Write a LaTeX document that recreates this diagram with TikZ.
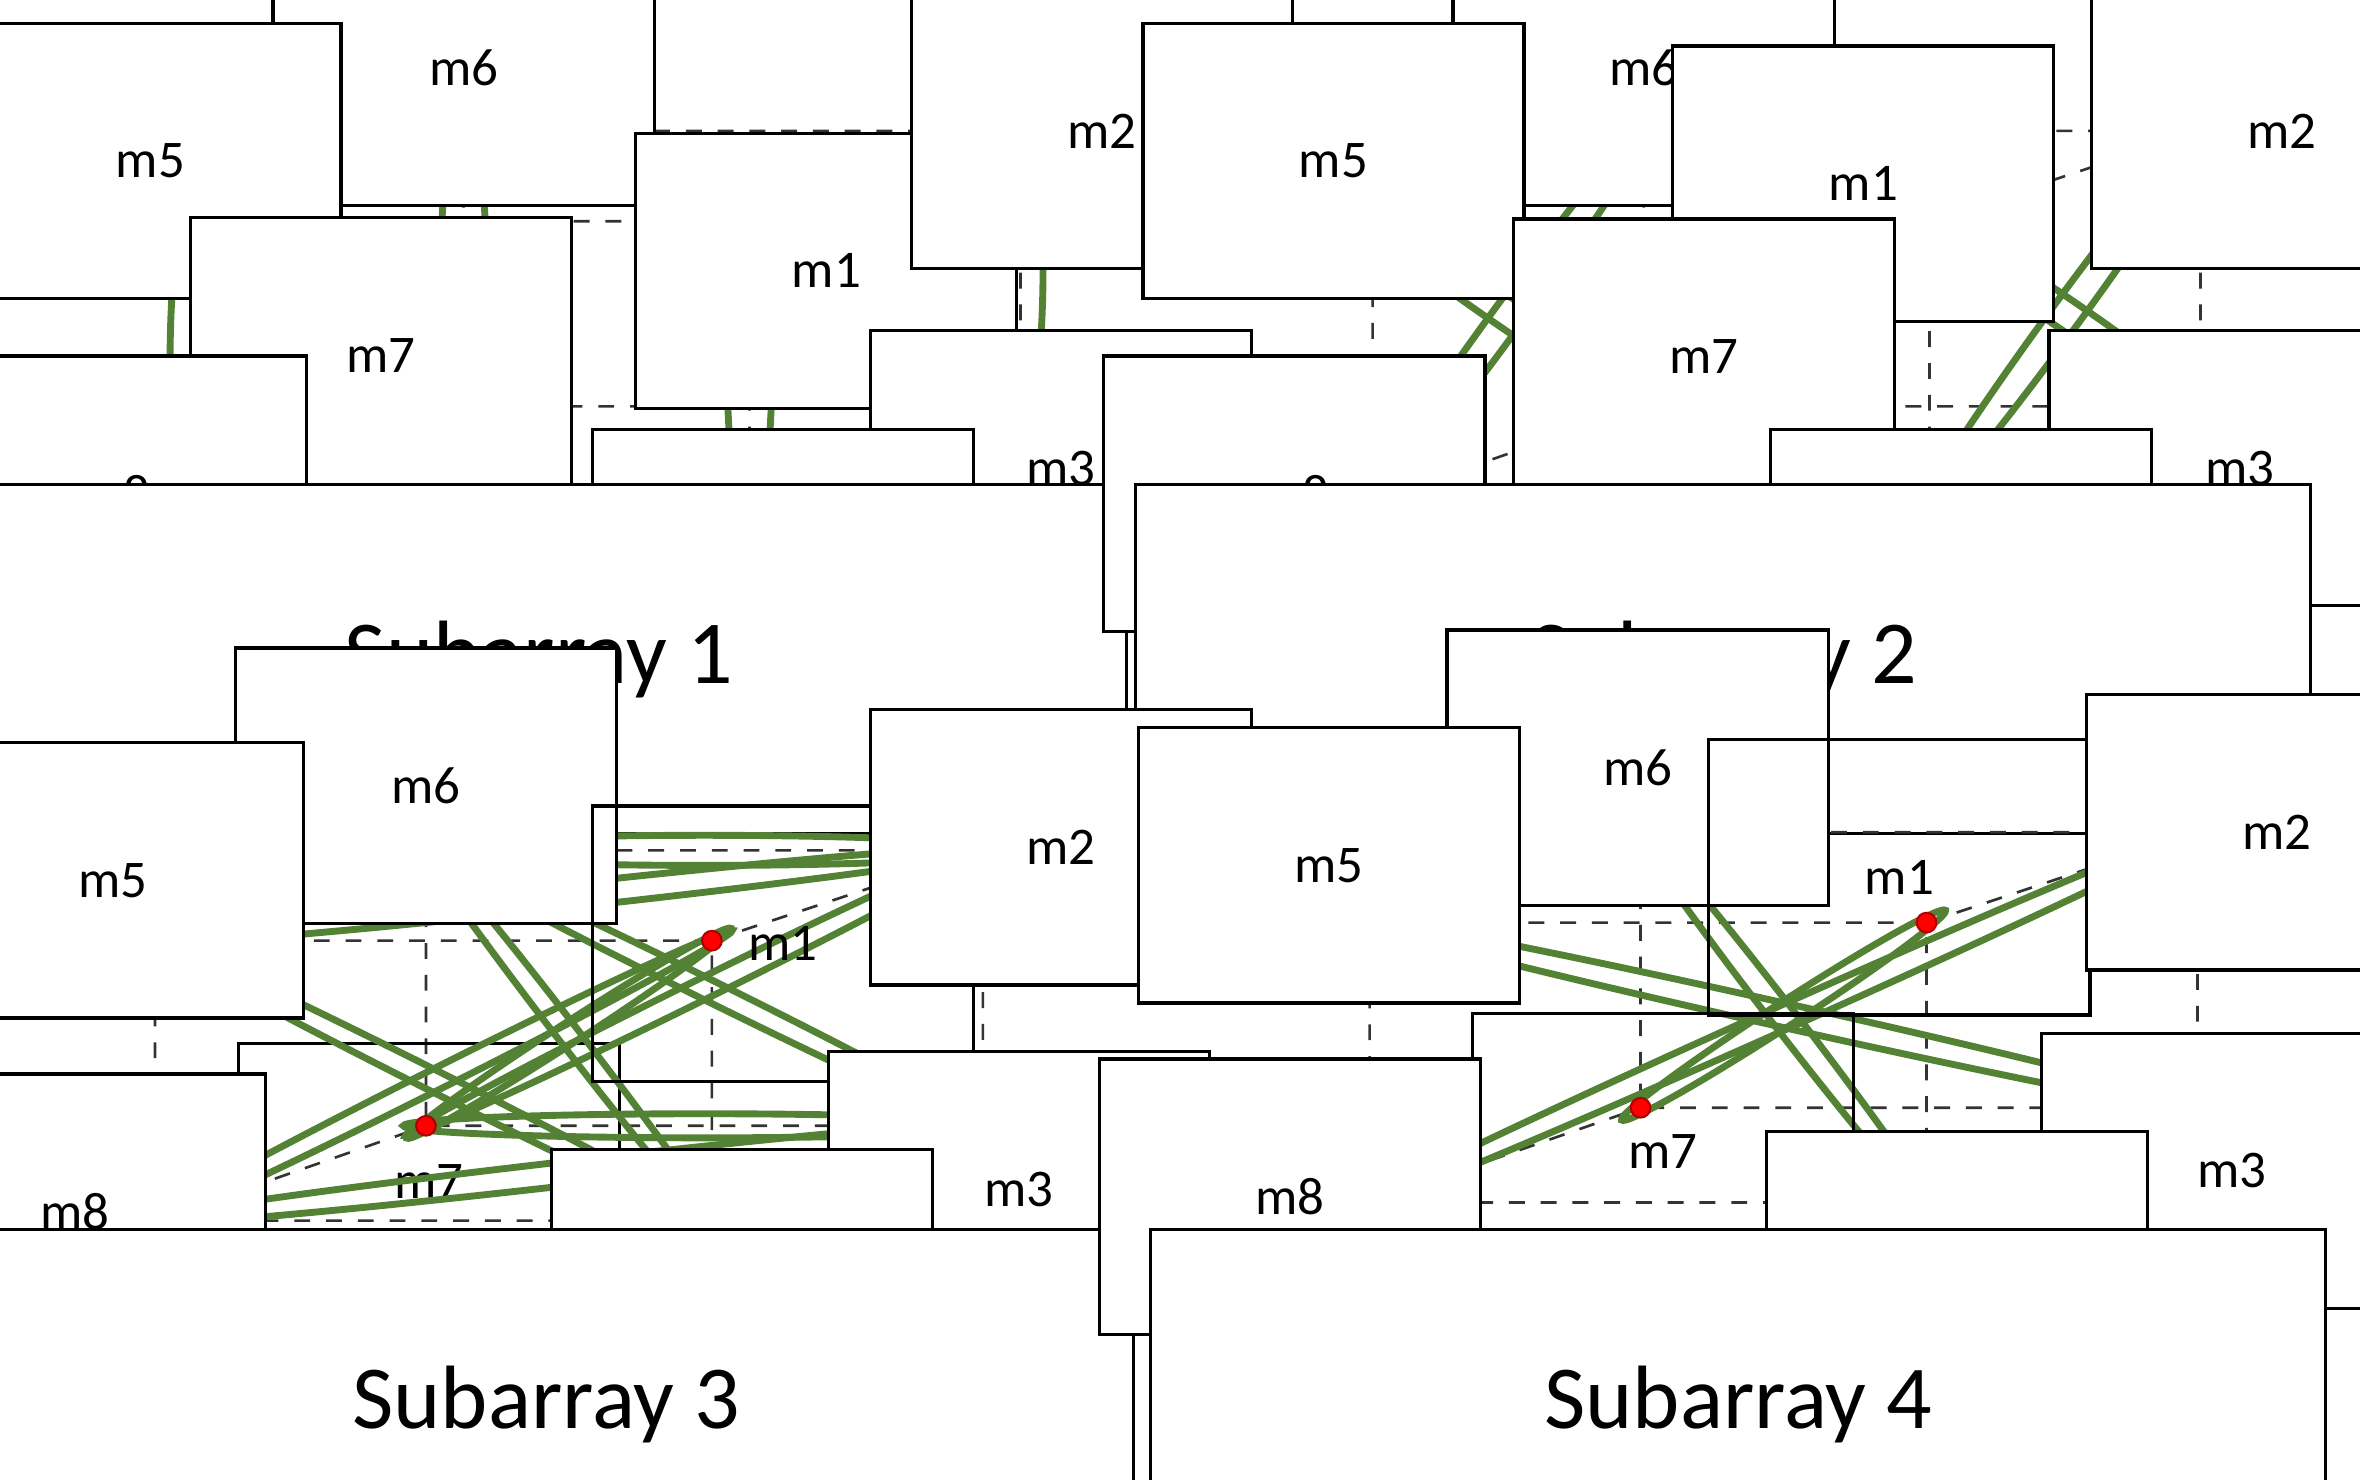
\documentclass[tikz,border=0pt]{standalone}
\usepackage{fontspec}
\setmainfont{Carlito}
\usetikzlibrary{shapes.geometric,calc}
\definecolor{eg}{RGB}{84,130,53}
\begin{document}
\begin{tikzpicture}[x=0.01cm,y=-0.01cm,
  cubeedge/.style={dashed,line width=0.5pt,gray!40!black},
  mlab/.style={draw,line width=0.6pt,fill=white,minimum width=72,minimum height=52,inner sep=0,font=\fontsize{10}{12}\selectfont},
  subtitle/.style={draw,line width=0.6pt,fill=white,minimum width=222,minimum height=66,inner sep=0,font=\fontsize{17}{20}\selectfont},
  mdot/.style={circle,fill=red,draw=red!70!black,inner sep=0,minimum size=0.13cm}]
\useasboundingbox (0,0) rectangle (1568,983);
\newcommand{\mycube}[3]{%
 \coordinate (#1m5) at (#2,#3);
 \coordinate (#1m6) at ($(#2,#3)+(180,-60)$);
 \coordinate (#1m1) at ($(#2,#3)+(370,0)$);
 \coordinate (#1m2) at ($(#2,#3)+(550,-60)$);
 \coordinate (#1m8) at ($(#2,#3)+(0,186)$);
 \coordinate (#1m7) at ($(#2,#3)+(180,123)$);
 \coordinate (#1m4) at ($(#2,#3)+(370,186)$);
 \coordinate (#1m3) at ($(#2,#3)+(550,123)$);
 \draw[cubeedge] (#1m5)--(#1m1)--(#1m4)--(#1m8)--cycle (#1m6)--(#1m2)--(#1m3)--(#1m7)--cycle
   (#1m5)--(#1m6) (#1m1)--(#1m2) (#1m4)--(#1m3) (#1m8)--(#1m7);}
\newcommand{\myell}[3]{%
 \path let \p1=(#1), \p2=(#2), \n1={atan2(\y2-\y1,\x2-\x1)}, \n2={veclen(\x2-\x1,\y2-\y1)+0.3cm} in
  ($(#1)!0.5!(#2)$) node[ellipse,draw=eg,line width=1.3pt,inner sep=0,minimum width=\n2,minimum height=#3,rotate=\n1]{};}
\newcommand{\mydots}[1]{\foreach \k in {1,...,8}{\node[mdot] (#1d\k) at (#1m\k){};}}
% Subarray 1
\mycube{a}{128}{147}
\myell{am5}{am6}{0.26cm}\myell{am6}{am7}{0.3cm}\myell{am7}{am8}{0.26cm}\myell{am8}{am5}{0.3cm}
\myell{am1}{am2}{0.26cm}\myell{am2}{am3}{0.3cm}\myell{am3}{am4}{0.26cm}\myell{am4}{am1}{0.3cm}
\mydots{a}
\node[mlab] (a6) at (308,45){m6}; \node[mlab] (a5) at (100,107){m5};
\node[mlab] (a7) at (253,236){m7}; \node[mlab] (a8) at (77,328){m8};
\node[mlab] (a1) at (549,180){m1}; \node[mlab] (a2) at (732,87){m2};
\node[mlab] (a3) at (705,311){m3}; \node[mlab] (a4) at (520,377){m4};
\node[subtitle] (ta) at (358,438){Subarray 1};
% Subarray 2
\mycube{b}{912}{147}
\myell{bm5}{bm7}{0.2cm}\myell{bm6}{bm8}{0.2cm}\myell{bm1}{bm3}{0.2cm}\myell{bm2}{bm4}{0.2cm}
\mydots{b}
\node[mlab] (b6) at (1092,45){m6}; \node[mlab] (b5) at (886,107){m5};
\node[mlab] (b1) at (1238,122){m1}; \node[mlab] (b7) at (1132,237){m7};
\node[mlab] (b8) at (860,328){m8}; \node[mlab] (b2) at (1516,87){m2};
\node[mlab] (b3) at (1488,311){m3}; \node[mlab] (b4) at (1303,377){m4};
\node[subtitle] (tb) at (1145,438){Subarray 2};
% Subarray 3
\mycube{c}{103}{625}
\node[mlab,fill=none] (c7) at (285,785){m7};
\myell{cm6}{cm2}{0.2cm}\myell{cm5}{cm2}{0.16cm}\myell{cm5}{cm4}{0.14cm}\myell{cm6}{cm4}{0.14cm}
\myell{cm6}{cm3}{0.14cm}\myell{cm8}{cm1}{0.14cm}\myell{cm7}{cm1}{0.14cm}\myell{cm7}{cm2}{0.14cm}
\myell{cm8}{cm3}{0.16cm}\myell{cm7}{cm3}{0.16cm}
\mydots{c}
\node[mlab] (c6) at (283,522){m6}; \node[mlab] (c5) at (75,585){m5};
\node[mlab,fill=none] (c1) at (520,627){m1}; \node[mlab] (c2) at (705,563){m2};
\node[mlab] (c8) at (50,805){m8};
\node[mlab] (c3) at (677,790){m3}; \node[mlab] (c4) at (493,855){m4};
\node[subtitle] (tc) at (363,933){Subarray 3};
% Subarray 4
\mycube{d}{910}{613}
\myell{dm5}{dm3}{0.16cm}\myell{dm6}{dm4}{0.16cm}\myell{dm8}{dm2}{0.16cm}\myell{dm7}{dm1}{0.16cm}
\mydots{d}
\node[mlab] (d6) at (1088,510){m6}; \node[mlab] (d5) at (883,575){m5};
\node[mlab,fill=none] (d1) at (1262,583){m1}; \node[mlab] (d2) at (1513,553){m2};
\node[mlab,fill=none] (d7) at (1105,765){m7}; \node[mlab] (d8) at (857,795){m8};
\node[mlab] (d3) at (1483,778){m3}; \node[mlab] (d4) at (1300,843){m4};
\node[subtitle] (td) at (1155,933){Subarray 4};
\end{tikzpicture}
\end{document}
